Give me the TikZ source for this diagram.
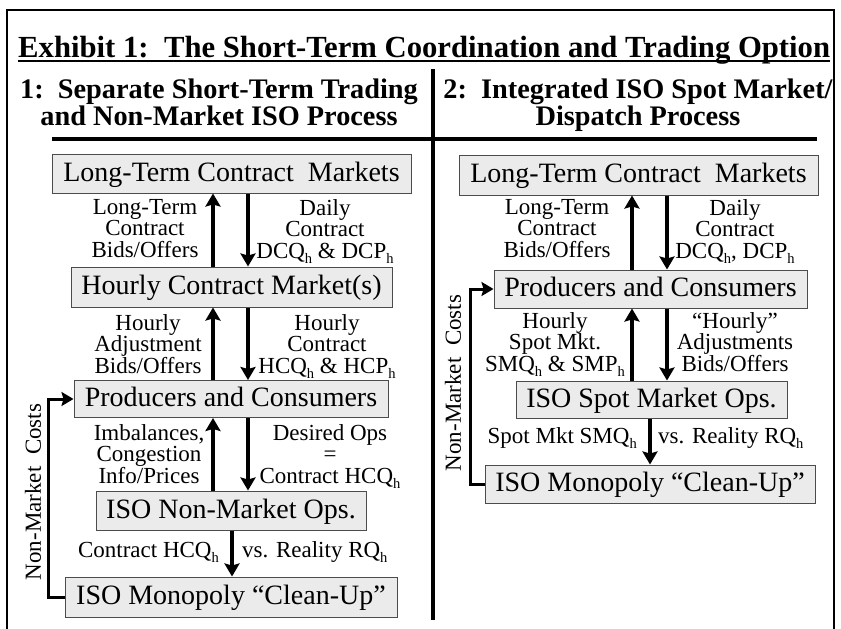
\documentclass[tikz,border=0pt]{standalone}
\usepackage{fontspec}
\setmainfont{Liberation Serif}
\usetikzlibrary{arrows.meta}

% lowered subscript "h" used in the quantity and price labels
\newcommand\hsub{\raisebox{-5.5pt}{\fontsize{14.5}{14.5}\selectfont h}}

\tikzset{
  box/.style={draw=black!70, fill=black!8, line width=1pt, inner sep=0pt,
    text height=20pt, text depth=5pt, font=\fontsize{28}{30}\selectfont},
  flow/.style={line width=3.5pt, -{Stealth[length=13pt,width=15pt,inset=2pt]}},
  loopline/.style={line width=3pt, -{Stealth[length=12pt,width=14pt,inset=2pt]}},
  lab/.style={inner sep=0pt, align=center, font=\fontsize{23}{21.5}\selectfont},
  headtext/.style={inner sep=0pt, font=\bfseries\fontsize{28.3}{30}\selectfont},
}

\begin{document}
\begin{tikzpicture}[x=1pt,y=-1pt]
\useasboundingbox (0,0) rectangle (841,629);

% outer frame (open at the bottom)
\draw[line width=2pt] (7,629) -- (7,10) -- (834,10) -- (834,629);

% title with underline
\node[anchor=base west, inner sep=0pt, font=\bfseries\fontsize{30.7}{33}\selectfont]
  (title) at (18,57) {Exhibit 1:\ \ The Short-Term Coordination and Trading Option};
\draw[line width=1.8pt] ([yshift=-4pt]title.base west) -- ([yshift=-4pt]title.base east);

% column headings
\node[headtext, anchor=base] (h1a) at (219,98) {1:\ \ Separate Short-Term Trading};
\node[headtext, anchor=base] (h1b) at (219,125) {and Non-Market ISO Process};
\node[headtext, anchor=base] (h2a) at (638,98) {2:\ \ Integrated ISO Spot Market/};
\node[headtext, anchor=base] (h2b) at (638,125) {Dispatch Process};

% dividing rules
\coordinate (ruleL) at (52,139);
\coordinate (ruleR) at (817,139);
\draw[line width=4pt] (ruleL) -- (ruleR);
\coordinate (divT) at (433,69);
\coordinate (divB) at (433,620);
\draw[line width=4pt] (divT) -- (divB);

% ---------- left column: separate trading and non-market ISO ----------
\node[box, minimum width=359pt, minimum height=39pt] (L1) at (231.5,173.5) {Long-Term Contract\ \ Markets};
\node[box, minimum width=321pt, minimum height=40pt] (L2) at (231.5,287) {Hourly Contract Market(s)};
\node[box, minimum width=314pt, minimum height=37pt] (L3) at (231,399) {Producers and Consumers};
\node[box, minimum width=270pt, minimum height=39pt] (L4) at (231,510.5) {ISO Non-Market Ops.};
\node[box, minimum width=332pt, minimum height=40pt] (L5) at (231,597) {ISO Monopoly ``Clean-Up''};

\coordinate (lu) at (213,0);
\coordinate (ld) at (248,0);
\coordinate (lm) at (232,0);
\draw[flow] (L2.north -| lu) -- (L1.south -| lu);
\draw[flow] (L1.south -| ld) -- (L2.north -| ld);
\draw[flow] (L3.north -| lu) -- (L2.south -| lu);
\draw[flow] (L2.south -| ld) -- (L3.north -| ld);
\draw[flow] (L4.north -| lu) -- (L3.south -| lu);
\draw[flow] (L3.south -| ld) -- (L4.north -| ld);
\draw[flow] (L4.south -| lm) -- (L5.north -| lm);

\node[lab, anchor=north] (la1) at (145,199) {Long-Term\\Contract\\Bids/Offers};
\node[lab, anchor=north] (la2) at (325,199) {Daily\\Contract\\DCQ\hsub\ \& DCP\hsub};
\node[lab, anchor=north] (la3) at (148,314) {Hourly\\Adjustment\\Bids/Offers};
\node[lab, anchor=north] (la4) at (327,314) {Hourly\\Contract\\HCQ\hsub\ \& HCP\hsub};
\node[lab, anchor=north] (la5) at (149,424) {Imbalances,\\Congestion\\Info/Prices};
\node[lab, anchor=north] (la6) at (330,424) {Desired Ops\\=\\Contract HCQ\hsub};
\node[lab, anchor=base east] (la7) at (219,557) {Contract HCQ\hsub};
\node[lab, anchor=base west] (la8) at (242,557) {vs. Reality RQ\hsub};

\coordinate (lloop) at (48,0);
\draw[loopline] (L5.west) -- (L5.west -| lloop) -- (L3.west -| lloop) -- (L3.west);
\node[lab, rotate=90] (lnmc) at (33,492) {Non-Market\ \ Costs};

% ---------- right column: integrated ISO spot market ----------
\node[box, minimum width=359pt, minimum height=40pt] (R1) at (638.5,175) {Long-Term Contract\ \ Markets};
\node[box, minimum width=313pt, minimum height=38pt] (R2) at (650.5,289) {Producers and Consumers};
\node[box, minimum width=271pt, minimum height=37pt] (R3) at (651.5,399.5) {ISO Spot Market Ops.};
\node[box, minimum width=330pt, minimum height=38pt] (R4) at (650,484) {ISO Monopoly ``Clean-Up''};

\coordinate (ru) at (632,0);
\coordinate (rd) at (667,0);
\coordinate (rm) at (650,0);
\draw[flow] (R2.north -| ru) -- (R1.south -| ru);
\draw[flow] (R1.south -| rd) -- (R2.north -| rd);
\draw[flow] (R3.north -| ru) -- (R2.south -| ru);
\draw[flow] (R2.south -| rd) -- (R3.north -| rd);
\draw[flow] (R3.south -| rm) -- (R4.north -| rm);

\node[lab, anchor=north] (ra1) at (557,199) {Long-Term\\Contract\\Bids/Offers};
\node[lab, anchor=north] (ra2) at (735,199) {Daily\\Contract\\DCQ\hsub, DCP\hsub};
\node[lab, anchor=north] (ra3) at (555,312) {Hourly\\Spot Mkt.\\SMQ\hsub\ \& SMP\hsub};
\node[lab, anchor=north] (ra4) at (735,312) {``Hourly''\\Adjustments\\Bids/Offers};
\node[lab, anchor=base east] (ra5) at (637,443) {Spot Mkt SMQ\hsub};
\node[lab, anchor=base west] (ra6) at (658,443) {vs. Reality RQ\hsub};

\coordinate (rloop) at (470,0);
\draw[loopline] (R4.west) -- (R4.west -| rloop) -- (R2.west -| rloop) -- (R2.west);
\node[lab, rotate=90] (rnmc) at (453,383) {Non-Market\ \ Costs};

\end{tikzpicture}
\end{document}
